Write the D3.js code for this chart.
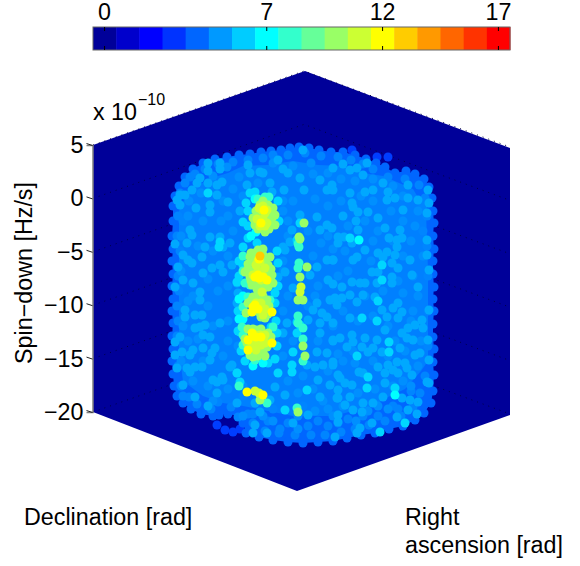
<!DOCTYPE html>
<html>
<head>
<meta charset="utf-8">
<script src="https://cdn.jsdelivr.net/npm/d3@7"></script>
<style>
  body { margin: 0; background: #fff; }
  svg { display: block; }
  text { font-family: "Liberation Sans", Arial, sans-serif; fill: #000; }
</style>
</head>
<body>
<svg id="chart"></svg>
<script>
const width = 580;
const height = 566;

// colour levels on the bar
const levels = d3.range(18);
const levelTicks = [0, 7, 12, 17];
const jetColors = ["#000099", "#0000cc", "#0000ff", "#0033ff", "#0066ff", "#0099ff", "#00ccff", "#00ffff", "#33ffcc",
  "#66ff99", "#99ff66", "#ccff33", "#ffff00", "#ffcc00", "#ff9900", "#ff6600", "#ff3300", "#ff0000"];

const spinTicks = [5, 0, -5, -10, -15, -20];

// projected box corners and the occupied region, in view units (0..417 across, 0..420 down)
const boxCorners = [[212, 0], [417, 77], [417, 344], [204, 420], [0, 341], [0, 74]];
const innerRegion = [[88, 135], [95, 122], [115, 108], [135, 102], [150, 95], [175, 94], [200, 90], [225, 94], [250, 95], [270, 102], [290, 105],
  [320, 118], [333, 140], [335, 200], [335, 290], [328, 300], [312, 318], [295, 326], [280, 335], [260, 340], [240, 345], [200, 345], [175, 340],
  [150, 335], [130, 332], [110, 325], [90, 310], [86, 280], [86, 140]];

const outlierDots = [[284, 86], [295, 86], [259, 79], [132, 359], [140, 361], [124, 354], [147, 358]];

// rim of the cloud, walked round clockwise
const rimDots = [[80, 135], [82, 125], [86, 115], [92, 106], [100, 98], [110, 92], [122, 88], [134, 86], [146, 84], [157, 83], [168, 81],
  [178, 80], [188, 79], [197, 77], [206, 76], [216, 77], [226, 79], [238, 81], [250, 81], [262, 84], [273, 88], [283, 92], [292, 96],
  [302, 102], [313, 100], [322, 103], [331, 108], [336, 116], [339, 127], [340, 140], [341, 152], [340, 165], [341, 178], [340, 190],
  [340, 203], [341, 216], [340, 228], [341, 240], [340, 253], [340, 266], [341, 278], [340, 291], [341, 304], [340, 320], [338, 332],
  [331, 342], [322, 349], [310, 355], [296, 358], [282, 362], [268, 364], [254, 367], [240, 370], [225, 371], [210, 372], [195, 371],
  [180, 369], [166, 366], [153, 362], [150, 352], [146, 345], [135, 343], [126, 344], [120, 345], [108, 343], [98, 338], [90, 332],
  [84, 325], [81, 315], [80, 303], [79, 290], [80, 278], [79, 265], [80, 252], [79, 240], [80, 228], [79, 215], [80, 203], [79, 190],
  [80, 178], [79, 165], [80, 150]];

const bandDots = [[87, 122], [97, 106], [112, 98], [125, 93], [140, 91], [155, 89], [170, 87], [180, 84], [195, 84], [212, 82], [228, 85],
  [245, 86], [258, 89], [270, 93], [280, 98], [295, 106], [312, 108], [326, 114], [332, 127], [334, 145], [334, 175], [335, 205], [335, 240],
  [335, 275], [332, 305], [327, 322], [320, 336], [308, 345], [292, 350], [276, 354], [262, 358], [248, 361], [232, 364], [218, 364],
  [202, 364], [186, 362], [172, 360], [160, 352], [155, 343], [118, 338], [104, 333], [96, 326], [88, 315], [85, 295], [84, 265], [84, 235],
  [85, 205], [84, 165], [85, 145], [175, 350], [195, 352], [215, 355], [235, 355], [255, 348], [270, 345], [125, 331], [138, 336],
  [150, 325], [180, 338], [210, 335], [300, 335], [318, 320], [90, 150], [92, 112], [102, 103], [330, 135], [330, 160], [187, 358], [225, 350],
  [245, 352], [285, 345], [305, 338], [160, 343], [145, 346], [90, 325], [86, 220], [85, 250], [87, 180]];

const faintDots = [[96, 130], [108, 122], [120, 105], [134, 96], [146, 106], [140, 118], [130, 130], [150, 125], [165, 112], [180, 92], [200, 95],
  [218, 92], [220, 103], [235, 102], [248, 108], [262, 110], [280, 108], [300, 115], [310, 125], [325, 140], [322, 155], [310, 150], [298, 140],
  [280, 130], [268, 125], [248, 130], [235, 135], [222, 128], [200, 130], [190, 140], [195, 150], [215, 160], [228, 172], [240, 178], [255, 155],
  [272, 150], [285, 160], [300, 170], [318, 170], [330, 185], [320, 205], [305, 210], [290, 220], [272, 225], [255, 200], [245, 205], [225, 215],
  [215, 235], [195, 225], [190, 240], [200, 270], [190, 285], [195, 310], [205, 322], [220, 318], [235, 300], [250, 290], [262, 292], [280, 290],
  [295, 285], [312, 280], [328, 270], [325, 295], [318, 315], [300, 315], [282, 318], [265, 322], [250, 335], [235, 338], [222, 340], [205, 358],
  [180, 350], [170, 345], [150, 315], [135, 318], [115, 315], [100, 310], [88, 290], [95, 270], [105, 268], [120, 255], [135, 250], [135, 270],
  [130, 285], [110, 290], [90, 255], [95, 230], [115, 235], [125, 220], [135, 215], [115, 208], [100, 225], [88, 200], [105, 175], [120, 180],
  [135, 185], [140, 160], [128, 150], [110, 150], [95, 145], [88, 165], [135, 145], [190, 130], [195, 165], [190, 190], [220, 185], [235, 165],
  [252, 180], [280, 170], [278, 190], [310, 185], [325, 225], [310, 222], [295, 255], [320, 240], [280, 245], [265, 250], [250, 240], [240, 255],
  [225, 270], [260, 280], [302, 270], [318, 250], [145, 275], [190, 200], [222, 225], [210, 305], [245, 283], [275, 340], [295, 338], [310, 310],
  [150, 345], [205, 345], [230, 330], [120, 330], [240, 345], [263, 350], [285, 335]];

const softDots = [[115, 92], [127, 92], [115, 100], [127, 98], [155, 94], [157, 102], [167, 101], [190, 98], [195, 102], [185, 89], [210, 79],
  [129, 111], [124, 114], [115, 112], [107, 107], [104, 112], [87, 124], [84, 129], [87, 134], [99, 119], [92, 124], [117, 134], [117, 141],
  [103, 137], [147, 140], [135, 131], [124, 124], [154, 114], [179, 121], [191, 119], [211, 119], [234, 119], [239, 114], [227, 109], [207, 107],
  [177, 112], [170, 102], [207, 144], [199, 159], [224, 146], [234, 154], [239, 157], [227, 159], [117, 166], [112, 176], [127, 166], [137, 172],
  [130, 176], [97, 159], [99, 164], [94, 172], [90, 184], [95, 189], [109, 186], [99, 192], [82, 173], [85, 196], [82, 216], [90, 209],
  [100, 212], [110, 202], [119, 197], [127, 194], [130, 201], [139, 194], [234, 189], [240, 189], [235, 209], [224, 196], [217, 204], [192, 201],
  [185, 206], [180, 214], [200, 217], [144, 212], [190, 176], [192, 179], [197, 171],
  [107, 229], [107, 221], [92, 239], [92, 246], [102, 244], [109, 244], [127, 252], [112, 254], [107, 256], [102, 257], [110, 264], [117, 266],
  [87, 266], [82, 271], [82, 284], [89, 281], [100, 279], [97, 284], [110, 277], [119, 282], [122, 277], [117, 289], [102, 296], [109, 296],
  [94, 297], [97, 301], [84, 297], [139, 294], [129, 306], [120, 309], [130, 309], [144, 302], [90, 314], [102, 326], [124, 322], [115, 335],
  [144, 332], [162, 332], [182, 316], [192, 324], [177, 329], [167, 341], [162, 354], [160, 362], [174, 362], [200, 352], [215, 344], [227, 326],
  [244, 327], [237, 314], [225, 309], [214, 294], [240, 294], [230, 294], [222, 296], [234, 282], [224, 281], [240, 269], [227, 262], [234, 246],
  [240, 252], [229, 242], [220, 239], [215, 249], [227, 252], [194, 252], [190, 262], [237, 229], [224, 232], [244, 234], [144, 232], [137, 296],
  [124, 311], [145, 222],
  [250, 93], [257, 99], [264, 97], [274, 92], [240, 97], [270, 104], [257, 122], [240, 119], [272, 121], [280, 119], [294, 129], [295, 121],
  [302, 127], [315, 114], [290, 112], [315, 127], [335, 119], [325, 129], [336, 132], [310, 139], [265, 141], [275, 141], [259, 132], [260, 136],
  [250, 145], [285, 147], [263, 150], [292, 157], [307, 159], [265, 159], [245, 166], [251, 166], [296, 167], [309, 167], [304, 169], [304, 176],
  [272, 179], [245, 172], [259, 172], [294, 181], [285, 182], [302, 184], [290, 186], [264, 186], [260, 189], [240, 189], [317, 189], [334, 184],
  [299, 192], [305, 197], [279, 201], [285, 201], [319, 204], [299, 206], [336, 199], [259, 211], [267, 212], [272, 212], [240, 213], [299, 212],
  [284, 212], [249, 216], [325, 216], [334, 142], [334, 169],
  [242, 227], [249, 227], [264, 231], [270, 224], [257, 224], [282, 226], [305, 232], [289, 239], [300, 237], [309, 241], [294, 246], [305, 247],
  [257, 247], [329, 249], [322, 254], [330, 257], [336, 239], [292, 259], [309, 262], [315, 257], [314, 267], [320, 269], [335, 269], [307, 277],
  [284, 269], [272, 267], [259, 264], [247, 267], [240, 270], [260, 271], [254, 276], [269, 276], [280, 277], [275, 281], [289, 281], [322, 284],
  [327, 282], [336, 289], [304, 291], [312, 292], [295, 294], [285, 296], [314, 297], [300, 299], [292, 302], [305, 302], [319, 304], [266, 301],
  [270, 302], [245, 304], [252, 312], [259, 314], [240, 291], [247, 307], [292, 312], [334, 311], [336, 312], [245, 319], [245, 327], [290, 326],
  [309, 327], [317, 329], [325, 331], [257, 326], [270, 332], [252, 334], [280, 332], [260, 339], [269, 341], [315, 339], [324, 343], [245, 344],
  [245, 351], [279, 352], [267, 357], [264, 362], [304, 346], [242, 366]];

const brightDots = [[115, 122], [127, 171], [126, 176], [162, 121], [155, 167], [164, 172], [150, 151], [144, 211], [207, 152], [204, 169],
  [150, 194], [200, 281], [199, 294], [199, 301], [214, 319], [192, 339], [204, 262], [207, 254], [204, 251], [144, 302], [147, 261],
  [185, 302], [147, 311], [257, 167], [289, 194], [289, 209], [285, 230], [269, 247], [284, 250], [296, 271], [296, 281], [264, 285],
  [275, 306], [274, 317], [302, 317], [312, 352], [287, 361], [153, 132], [155, 140], [155, 155], [157, 122], [186, 150], [185, 130], [150, 176],
  [146, 190], [185, 192], [184, 180], [146, 205], [185, 215], [145, 240], [182, 222], [182, 232], [183, 250], [178, 256], [145, 260], [148, 280],
  [184, 262], [184, 275], [182, 288], [175, 292], [152, 290]];

const cyanDots = [[266, 169], [302, 324], [162, 128], [158, 165], [163, 161], [146, 228], [146, 248], [170, 292], [160, 295], [150, 225],
  [150, 248]];

const tealDots = [[172, 126], [205, 173], [206, 176], [206, 192], [205, 197], [205, 252], [210, 257], [210, 268], [204, 337], [174, 332], [146, 315],
  [150, 236], [149, 256], [150, 264], [150, 274], [155, 226], [177, 229], [162, 289], [157, 214], [205, 245], [210, 290], [180, 256], [150, 200],
  [152, 212], [150, 185], [165, 128], [176, 126]];

const greenDots = [[167, 134], [175, 134], [180, 137], [182, 144], [160, 147], [179, 147], [182, 154], [172, 161], [162, 154],
  [165, 179], [157, 186], [177, 186], [170, 184], [155, 193], [175, 194], [152, 201], [164, 197], [179, 204], [157, 206], [159, 214],
  [169, 212], [175, 216], [180, 212], [170, 192], [160, 191], [164, 229], [174, 229], [172, 247], [165, 236], [167, 242], [170, 239],
  [164, 259], [164, 269], [164, 276], [167, 279], [174, 276], [160, 282], [157, 284], [169, 282], [211, 152], [206, 166], [207, 168],
  [214, 196], [207, 206], [210, 229], [205, 229], [210, 275], [212, 285], [167, 329], [205, 341],
  [170, 130], [163, 140], [178, 141], [172, 145], [168, 146], [162, 150], [177, 151], [171, 157], [165, 158], [176, 158],
  [162, 182], [170, 178], [158, 182], [172, 190], [162, 188], [174, 200], [168, 198], [160, 200], [155, 198], [163, 212], [178, 198],
  [168, 205], [172, 203], [158, 210], [164, 218], [170, 218], [177, 210], [160, 226], [168, 226], [172, 232], [176, 235], [155, 232], [163, 240],
  [168, 246], [175, 243], [158, 230], [165, 222], [153, 242], [170, 225], [155, 258], [160, 258], [168, 258], [175, 262], [152, 268], [176, 268],
  [158, 276], [170, 281], [165, 285], [160, 286], [172, 285], [154, 272], [178, 266]];

const limeDots = [[169, 139], [174, 139], [167, 151], [174, 152], [167, 155], [167, 191], [169, 221], [172, 264], [170, 269], [160, 269],
  [162, 320], [166, 322], [208, 216], [207, 221], [170, 135], [166, 137], [172, 142], [170, 148], [172, 155], [164, 148], [165, 190], [165, 200],
  [160, 204], [170, 205], [168, 209], [163, 194], [172, 197], [163, 232], [168, 232], [172, 238], [163, 236], [170, 244], [162, 264], [167, 264],
  [165, 272], [160, 274], [168, 274], [172, 272], [158, 270], [163, 279], [168, 270]];

const yellowDots = [[165, 204], [162, 206], [174, 209], [160, 236], [159, 241], [179, 241], [159, 262], [155, 269], [179, 272], [155, 279],
  [154, 321], [170, 324], [171, 139], [168, 152], [166, 188], [166, 207], [170, 206], [165, 238], [162, 234], [163, 266], [168, 266], [160, 265]];

const orangeDots = [[167, 185]];

const dotGroups = [
  { dots: outlierDots, value: 3.2 },
  { dots: rimDots, value: 4 },
  { dots: bandDots, value: 4.6 },
  { dots: faintDots, value: 4.8 },
  { dots: softDots, value: 5.3 },
  { dots: brightDots, value: 6.2 },
  { dots: cyanDots, value: 7 },
  { dots: tealDots, value: 8 },
  { dots: greenDots, value: 10 },
  { dots: limeDots, value: 11 },
  { dots: yellowDots, value: 12 },
  { dots: orangeDots, value: 13 }
];

const svg = d3.select("#chart").attr("width", width).attr("height", height);

const viewX = d3.scaleLinear().domain([0, 417]).range([93, 510]);
const viewY = d3.scaleLinear().domain([0, 420]).range([71, 491]);
const spinY = d3.scaleLinear().domain([-20, 5]).range([412, 145]);
const colorScale = d3.scaleLinear().domain(levels).range(jetColors);
const viewLine = d3.line().x(d => viewX(d[0])).y(d => viewY(d[1])).curve(d3.curveLinearClosed);

// box
svg.append("path")
  .attr("d", viewLine(boxCorners))
  .attr("fill", colorScale(0));

// dotted grid on the two back walls
svg.append("g")
  .selectAll("polyline")
  .data(spinTicks)
  .enter()
  .append("polyline")
  .attr("points", d => `93,${spinY(d)} 304,${spinY(d) - 74} 510,${spinY(d) + 2}`)
  .attr("fill", "none")
  .attr("stroke", "#000040")
  .attr("stroke-width", 1)
  .attr("stroke-dasharray", "1,5");

// occupied region under the dots
svg.append("path").attr("d", viewLine(rimDots)).attr("fill", colorScale(4));
svg.append("path").attr("d", viewLine(innerRegion)).attr("fill", colorScale(4.5));

// dots, low values first
dotGroups.forEach(group => {
  svg.append("g")
    .selectAll("circle")
    .data(group.dots)
    .enter()
    .append("circle")
    .attr("cx", d => viewX(d[0]))
    .attr("cy", d => viewY(d[1]))
    .attr("r", 4.5)
    .attr("fill", colorScale(group.value));
});

// spin-down axis
const spinAxis = d3.axisLeft(spinY)
  .tickValues(spinTicks)
  .tickSize(6)
  .tickPadding(3)
  .tickFormat(d => String(d).replace("-", "\u2212"));

const spinG = svg.append("g").attr("transform", "translate(92.5,0)").call(spinAxis);
spinG.select(".domain").attr("stroke", "#808080").attr("stroke-width", 1.5);
spinG.selectAll(".tick line").attr("y2", -2).attr("stroke", "#222");
spinG.selectAll(".tick text").attr("font-size", 23.3).attr("font-family", "Liberation Sans");

// colour bar
const barX = d3.scaleBand().domain(levels).range([93, 510]);
const barY = 27;
const barH = 23;

svg.append("g")
  .selectAll("rect")
  .data(levels)
  .enter()
  .append("rect")
  .attr("x", d => barX(d))
  .attr("y", barY)
  .attr("width", barX.bandwidth() + 0.5)
  .attr("height", barH)
  .attr("fill", d => colorScale(d));

svg.append("rect")
  .attr("x", 93)
  .attr("y", barY)
  .attr("width", 417)
  .attr("height", barH)
  .attr("fill", "none")
  .attr("stroke", "#666");

const barTop = svg.append("g")
  .attr("transform", `translate(0,${barY})`)
  .call(d3.axisTop(barX).tickValues(levelTicks).tickSize(-4).tickPadding(7));
barTop.select(".domain").remove();
barTop.selectAll(".tick text").attr("font-size", 23.3).attr("font-family", "Liberation Sans");

const barBottom = svg.append("g")
  .attr("transform", `translate(0,${barY + barH})`)
  .call(d3.axisTop(barX).tickValues(levelTicks).tickSize(4).tickFormat(""));
barBottom.select(".domain").remove();

// labels
const addLabel = (x, y, str, size) => svg.append("text")
  .attr("x", x)
  .attr("y", y)
  .attr("font-size", size)
  .text(str);

addLabel(93, 120, "x 10", 23.3);
addLabel(138, 105, "\u221210", 16);
addLabel(24, 525, "Declination [rad]", 23.3);
addLabel(405, 525, "Right", 23.3);
addLabel(405, 553, "ascension [rad]", 23.3);

svg.append("text")
  .attr("transform", "translate(32,273) rotate(-90)")
  .attr("text-anchor", "middle")
  .attr("font-size", 23.3)
  .text("Spin\u2212down [Hz/s]");
</script>
</body>
</html>
